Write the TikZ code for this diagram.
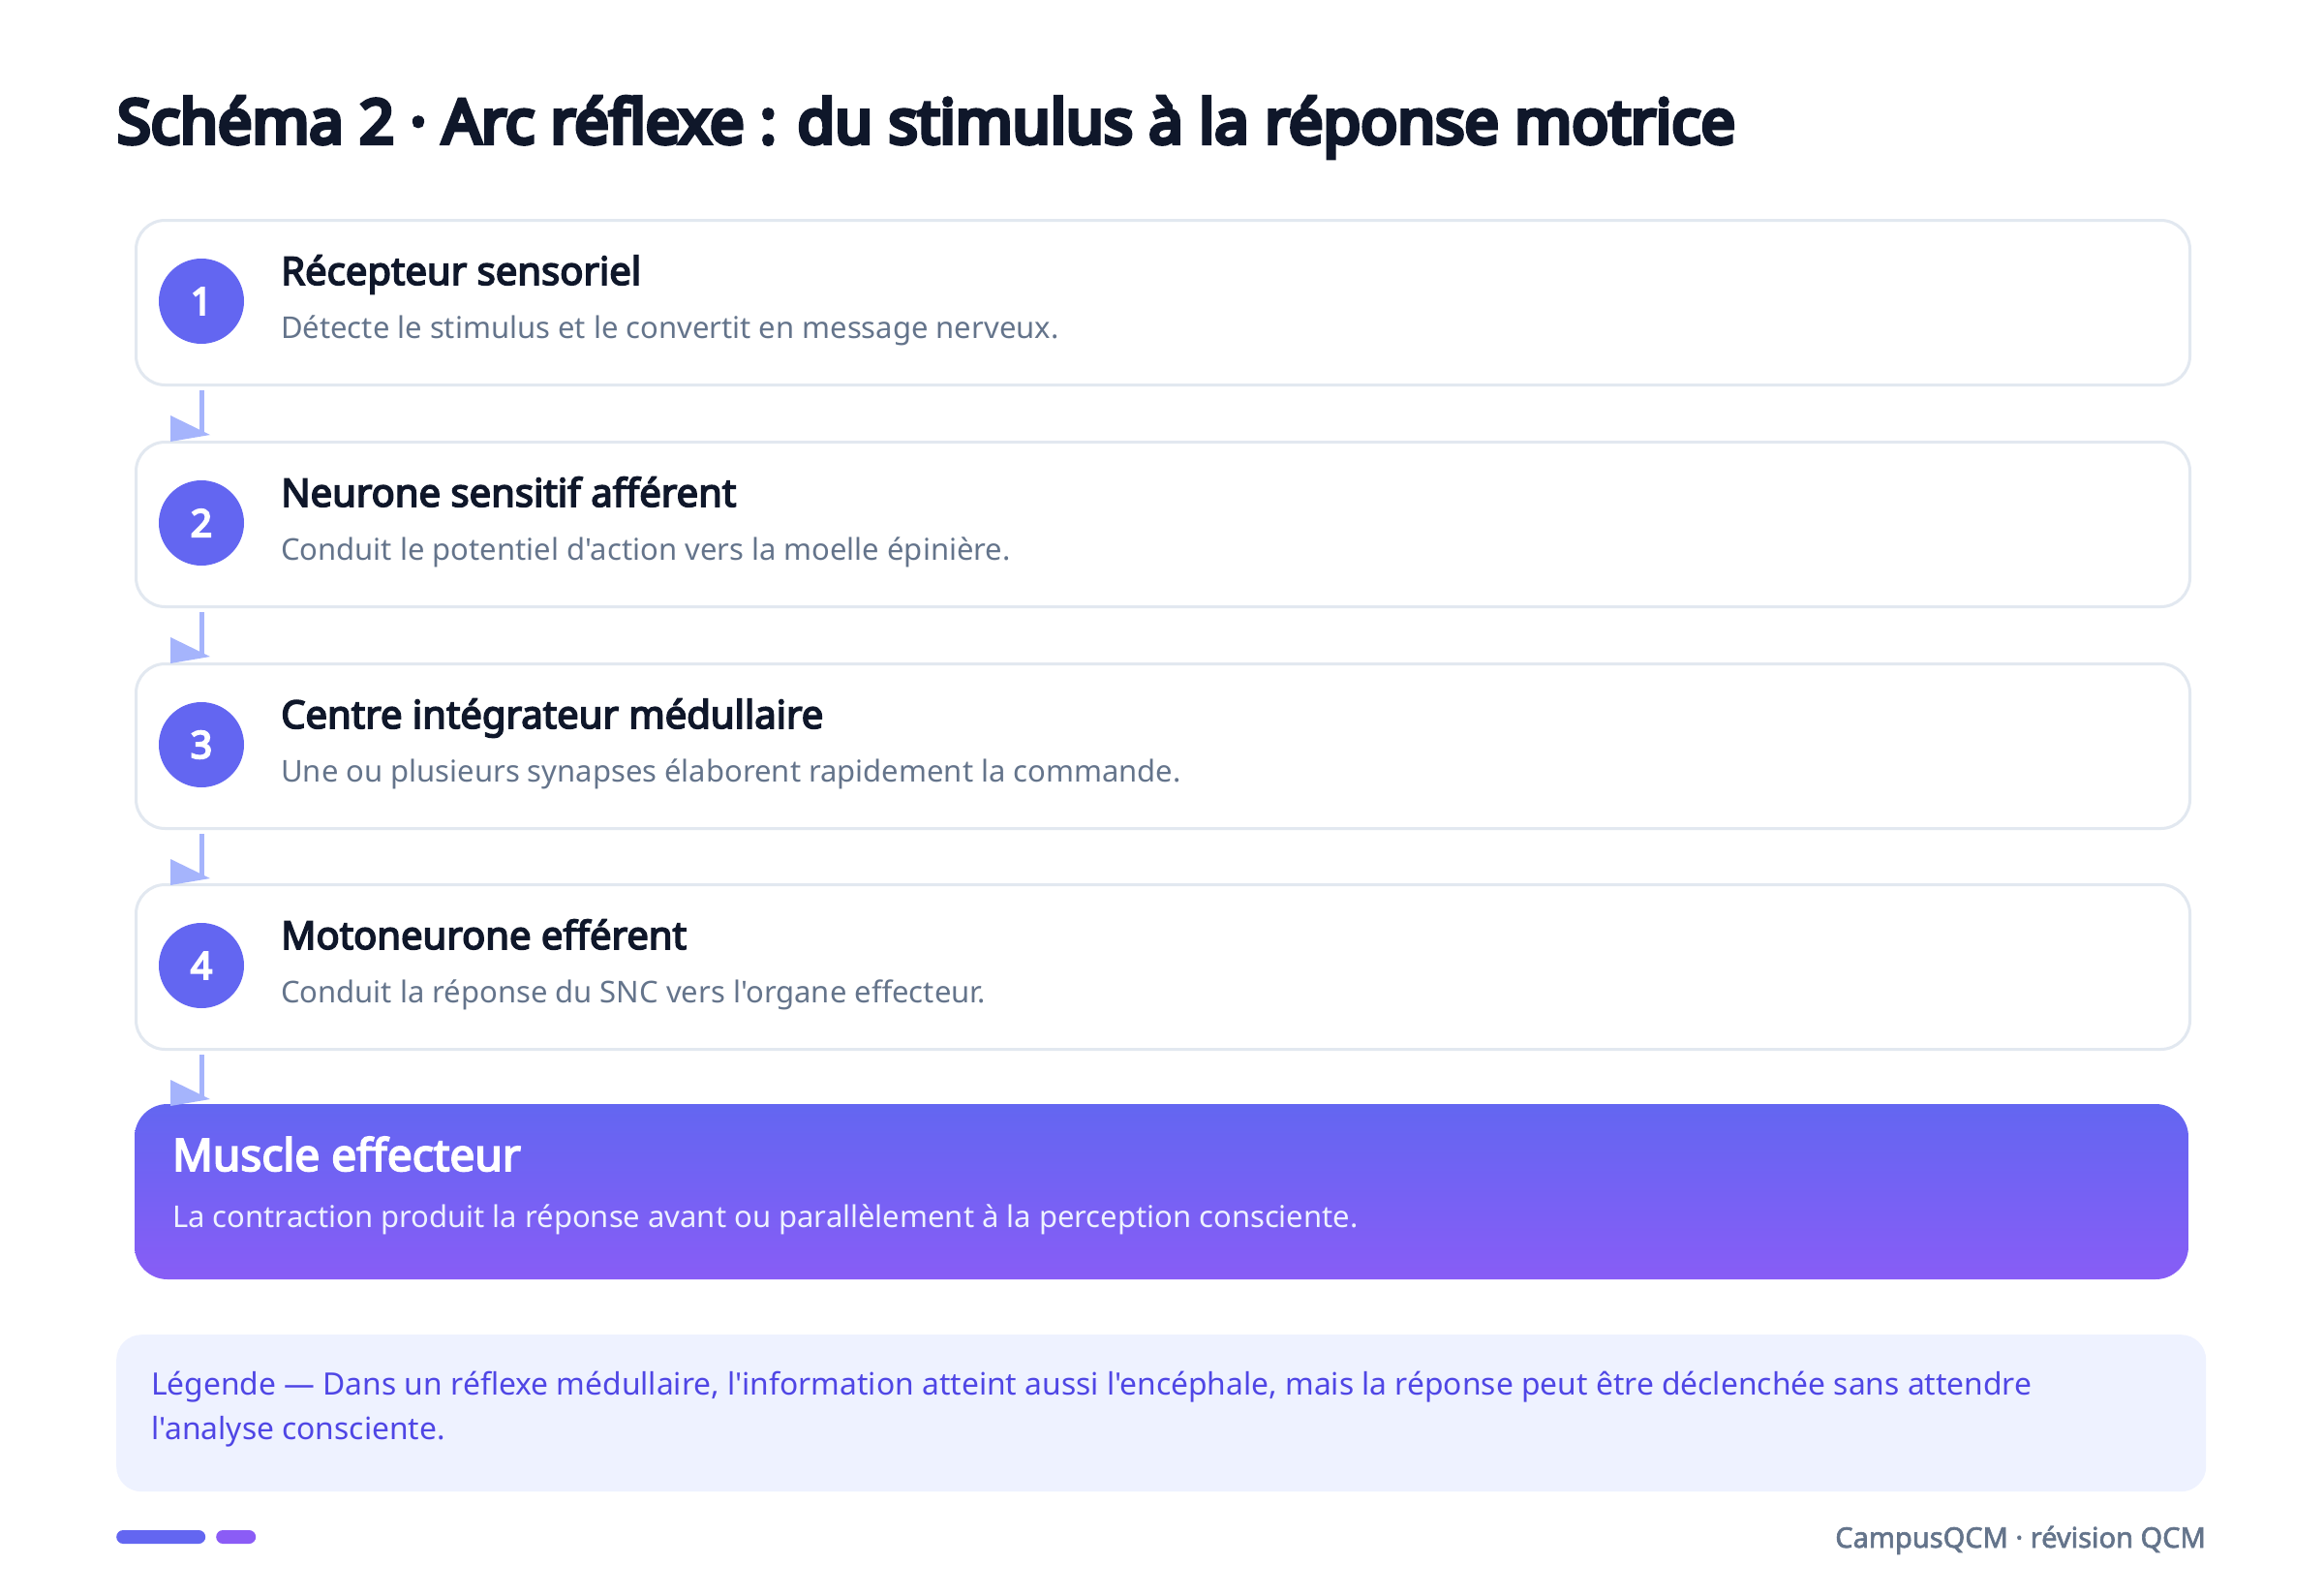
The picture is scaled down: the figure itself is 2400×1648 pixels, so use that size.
\documentclass[tikz,border=0pt]{standalone}
\usepackage{fontspec}
\setmainfont{Noto Sans}[BoldFont={Noto Sans}, BoldFeatures={FakeBold=2.2}, Ligatures=TeXOff]
\newfontfamily\titlefont{Noto Sans}[FakeBold=7, Ligatures=TeXOff]
\newfontfamily\heavyfont{Noto Sans}[FakeBold=4, Ligatures=TeXOff]
\newfontfamily\numfont{Noto Sans}[FakeBold=5, Ligatures=TeXOff]
\usetikzlibrary{calc}
\definecolor{ink}{HTML}{0F172A}
\definecolor{muted}{HTML}{64748B}
\definecolor{indigo}{HTML}{6366F1}
\definecolor{violet}{HTML}{8B5CF6}
\definecolor{cardborder}{HTML}{E2E8F0}
\definecolor{arrowc}{HTML}{A5B4FC}
\definecolor{legbg}{HTML}{EEF2FF}
\definecolor{legtx}{HTML}{4F46E5}
\definecolor{paletx}{HTML}{EEF2FF}
\tikzset{
  card/.style={draw=cardborder, line width=3pt, fill=white, rounded corners=30pt,
    minimum width=2121pt, minimum height=170pt, anchor=north west, inner sep=0pt},
  numcirc/.style={circle, fill=indigo, minimum size=88pt, inner sep=0pt,
    text=white, font=\fontsize{39}{42}\numfont},
  cardtitle/.style={anchor=base west, inner sep=0pt, text=ink, font=\fontsize{40}{46}\heavyfont},
  carddesc/.style={anchor=base west, inner sep=0pt, text=muted, font=\fontsize{31}{38}\selectfont},
  arrowline/.style={draw=arrowc, line width=5pt},
  arrowtip/.style={fill=arrowc},
  pill/.style={rounded corners=7pt, minimum height=14pt, inner sep=0pt},
}
\newcommand{\flowarrow}[2]{%
  \draw[arrowline] ($(#1.center |- #2.south)+(0,4)$) coordinate (s#1) -- ($(#1.center |- #2.south)+(0,50)$) coordinate (e#1);
  \fill[arrowtip] ($(e#1)+(-32,-20)$) -- ($(e#1)+(-32,7)$) -- ($(e#1)+(9,0)$) -- cycle;
}
\begin{document}
\begin{tikzpicture}[x=1pt,y=-1pt]
\useasboundingbox (0,0) rectangle (2400,1648);
\fill[white] (0,0) rectangle (2400,1648);

% title
\node[anchor=base west, inner sep=0pt, text=ink, font=\fontsize{63}{70}\titlefont] (title) at (121,148)
  {Schéma 2 · Arc réflexe : du stimulus à la réponse motrice};

% cards
\node[card] (c1) at (139,226) {};
\node[card] (c2) at (139,455) {};
\node[card] (c3) at (139,684) {};
\node[card] (c4) at (139,912) {};

\node[numcirc] (n1) at (208,311) {1};
\node[numcirc] (n2) at (208,540) {2};
\node[numcirc] (n3) at (208,769) {3};
\node[numcirc] (n4) at (208,997) {4};

\node[cardtitle] (t1) at (290,294) {Récepteur sensoriel};
\node[carddesc] (d1) at (290,349) {Détecte le stimulus et le convertit en message nerveux.};
\node[cardtitle] (t2) at (290,523) {Neurone sensitif afférent};
\node[carddesc] (d2) at (290,578) {Conduit le potentiel d'action vers la moelle épinière.};
\node[cardtitle] (t3) at (290,752) {Centre intégrateur médullaire};
\node[carddesc] (d3) at (290,807) {Une ou plusieurs synapses élaborent rapidement la commande.};
\node[cardtitle] (t4) at (290,980) {Motoneurone efférent};
\node[carddesc] (d4) at (290,1035) {Conduit la réponse du SNC vers l'organe effecteur.};

% muscle card
\shade[rounded corners=34pt, top color=indigo, bottom color=violet!92!indigo] (139,1140) rectangle (2260,1321);
\node[inner sep=0pt, minimum width=2121pt, minimum height=181pt, anchor=north west] (m) at (139,1140) {};
\node[anchor=base west, inner sep=0pt, text=white, font=\fontsize{46}{50}\heavyfont] (mt) at (178,1209) {Muscle effecteur};
\node[anchor=base west, inner sep=0pt, text=paletx, font=\fontsize{31}{38}\selectfont] (md) at (178,1267) {La contraction produit la réponse avant ou parallèlement à la perception consciente.};

% arrows
\flowarrow{n1}{c1}
\flowarrow{n2}{c2}
\flowarrow{n3}{c3}
\flowarrow{n4}{c4}

% legend
\node[fill=legbg, rounded corners=26pt, minimum width=2158pt, minimum height=162pt, anchor=north west, inner sep=0pt] (leg) at (120,1378) {};
\node[anchor=base west, inner sep=0pt, text=legtx, font=\fontsize{31.8}{40}\selectfont] (l1) at (156,1440)
  {Légende — Dans un réflexe médullaire, l'information atteint aussi l'encéphale, mais la réponse peut être déclenchée sans attendre};
\node[anchor=base west, inner sep=0pt, text=legtx, font=\fontsize{31.8}{40}\selectfont] (l2) at (156,1486)
  {l'analyse consciente.};

% footer
\node[pill, fill=indigo, minimum width=92pt, anchor=west] (p1) at (120,1587) {};
\node[pill, fill=violet, minimum width=41pt, anchor=west] (p2) at (223,1587) {};
\node[anchor=base east, inner sep=0pt, text=muted, font=\fontsize{29}{34}\selectfont\bfseries] (ft) at (2278,1598)
  {CampusQCM · révision QCM};
\end{tikzpicture}
\end{document}
